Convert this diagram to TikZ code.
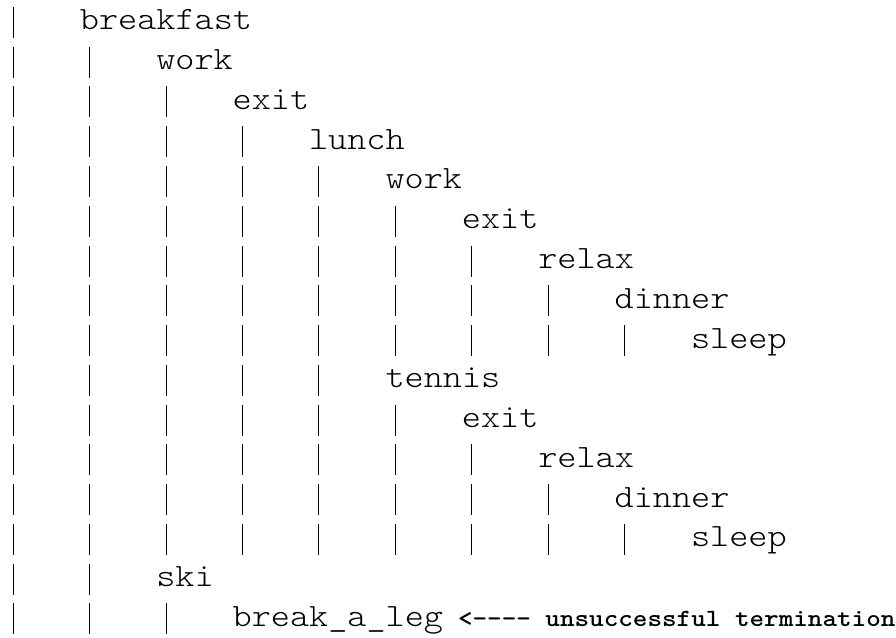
\documentclass[tikz,border=0pt]{standalone}
\usepackage{fontspec}
\newfontfamily\cour[BoldFont=lmmonolt10-bold.otf,FakeStretch=1.12,Ligatures=TeXOff]{lmmonolt10-regular.otf}
\begin{document}
\begin{tikzpicture}[x=0.75pt,y=-0.75pt,
  lbl/.style={anchor=base west,inner sep=0pt,outer sep=0pt,font=\cour\fontsize{24.4pt}{28pt}\selectfont},
  notestyle/.style={anchor=base west,inner sep=0pt,outer sep=0pt,font=\cour\bfseries\fontsize{18.6pt}{22pt}\selectfont},
  bar/.style={line width=0.95pt,black}]
\useasboundingbox (0,0) rectangle (896,638);
\foreach \r/\L/\t in {0/0/breakfast,1/1/work,2/2/exit,3/3/lunch,4/4/work,5/5/exit,6/6/relax,7/7/dinner,8/8/sleep,9/4/tennis,10/5/exit,11/6/relax,12/7/dinner,13/8/sleep,14/1/ski,15/2/break\_a\_leg}{
  \node[lbl] (r\r) at ({3.5+76.4*(\L+1)},{30+39.75*\r}) {\t};
  \foreach \k in {0,...,\L}{
    \pgfmathsetmacro{\bx}{floor(13.3+76.4*\k)+0.5}
    \coordinate (t\r-\k) at (\bx,{7+39.75*\r});
    \coordinate (b\r-\k) at (\bx,{38+39.75*\r});
    \draw[bar] (t\r-\k) -- (b\r-\k);
  }
}
\node[notestyle] (note) at (458,{30+39.75*15}) {<---- unsuccessful termination};
\end{tikzpicture}
\end{document}
